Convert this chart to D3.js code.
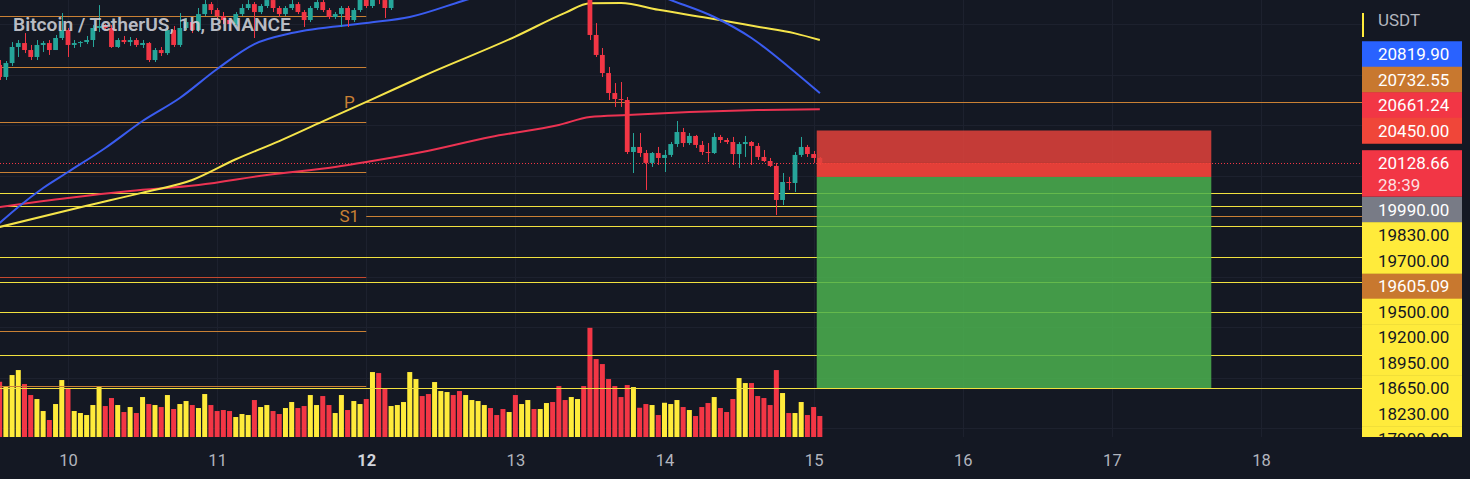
<!DOCTYPE html>
<html>
<head>
<meta charset="utf-8">
<script src="https://cdn.jsdelivr.net/npm/d3@7"></script>
<style>
  html, body { margin: 0; padding: 0; background: #141823; }
  svg { display: block; font-family: Roboto, "Noto Sans", sans-serif; }
</style>
</head>
<body>
<svg id="chart" width="1470" height="479"></svg>
<script>
// BTCUSDT 1h, hours counted from 2022-09-10 00:00 UTC, first candle at hour -11
const firstHour = -11;
const firstOpen = 21099;

const closes = [
    20980, 21118, 21277, 21316, 21247, 21178, 21297, 21316, 21247, 21366, 21445,
    21297, 21316, 21326, 21346, 21465, 21485, 21465, 21277, 21346, 21326,
    21346, 21297, 21316, 21148, 21247, 21217, 21445, 21297, 21465, 21524,
    21445, 21603, 21702, 21643, 21584, 21544, 21504, 21603, 21663, 21702,
    21623, 21683, 21742, 21663, 21603, 21663, 21702, 21623, 21544, 21663,
    21722, 21643, 21574, 21603, 21663, 21544, 21643, 21762, 21683, 21821,
    21742, 21663, 21762, 21841, 21900, 22150, 22300, 22220, 22150, 22280,
    22350, 22400, 22330, 22250, 22300, 22340, 22380, 22410, 22380, 22360,
    22320, 22350, 22300, 22340, 22400, 22370, 22400, 22450, 22420, 22350,
    22330, 22380, 22420, 22380, 21396, 21198, 21019, 20821, 20762, 20752,
    20237, 20287, 20227, 20129, 20227, 20178, 20208, 20316, 20435, 20326,
    20396, 20307, 20237, 20227, 20386, 20356, 20336, 20217, 20316, 20336,
    20297, 20188, 20148, 20099, 19762, 19940, 19930, 20208, 20287, 20217,
    20178, 20128.66
];

const highs = [
    21148, 21138, 21326, 21346, 21415, 21297, 21346, 21336, 21346, 21396, 21613,
    21465, 21346, 21336, 21386, 21494, 21692, 21504, 21494, 21366, 21386,
    21376, 21366, 21346, 21326, 21267, 21277, 21465, 21485, 21613, 21564,
    21544, 21663, 21792, 21722, 21663, 21623, 21564, 21623, 21702, 21742,
    21722, 21702, 21782, 21762, 21683, 21683, 21742, 21722, 21643, 21683,
    21762, 21742, 21663, 21623, 21683, 21683, 21663, 21801, 21782, 21861,
    21841, 21762, 21782, 21881, 21960, 22200, 22350, 22330, 22240, 22300,
    22380, 22440, 22420, 22350, 22320, 22360, 22400, 22440, 22430, 22400,
    22380, 22370, 22380, 22360, 22420, 22420, 22420, 22480, 22470, 22440,
    22380, 22400, 22450, 22460, 22440, 21514, 21267, 21079, 20920, 20930,
    20782, 20425, 20425, 20257, 20237, 20287, 20257, 20336, 20544, 20475,
    20425, 20406, 20346, 20326, 20425, 20406, 20376, 20386, 20336, 20396,
    20346, 20326, 20257, 20178, 20129, 20029, 19990, 20237, 20386, 20307,
    20247, 20188
];

const lows = [
    20950, 20950, 21089, 21178, 21217, 21148, 21148, 21227, 21198, 21247, 21346,
    21178, 21267, 21277, 21306, 21277, 21425, 21445, 21267, 21267, 21306,
    21287, 21277, 21267, 21128, 21128, 21188, 21198, 21277, 21277, 21445,
    21415, 21425, 21584, 21603, 21544, 21504, 21445, 21485, 21584, 21643,
    21366, 21603, 21663, 21623, 21574, 21584, 21643, 21603, 21475, 21524,
    21643, 21623, 21554, 21554, 21475, 21475, 21524, 21623, 21663, 21663,
    21702, 21564, 21643, 21742, 21820, 21880, 22120, 22180, 22100, 22130,
    22260, 22330, 22300, 22220, 22230, 22280, 22320, 22360, 22350, 22340,
    22290, 22300, 22260, 22280, 22320, 22350, 22350, 22390, 22400, 22320,
    22300, 22310, 22360, 22350, 21346, 21178, 20980, 20752, 20683, 20683,
    20217, 20029, 20188, 19861, 20089, 20109, 20039, 20188, 20287, 20287,
    20307, 20277, 20208, 20138, 20217, 20326, 20316, 20109, 20079, 20188,
    20109, 20158, 20138, 20089, 19613, 19712, 19861, 19841, 20188, 20188,
    20129, 20109
];

const volumes = [
    30400, 28050, 34100, 36850, 29150, 23100, 20900, 14300, 9350, 18150, 31350,
    26400, 14300, 13200, 12100, 17600, 27500, 17050, 21450, 17600, 13750,
    16500, 13200, 22000, 18150, 17600, 16500, 23100, 15400, 18150, 19800,
    17600, 15950, 23650, 17600, 14300, 14850, 14300, 11000, 12650, 12100,
    20350, 16500, 17600, 14300, 12650, 15950, 19250, 15950, 17050, 23100,
    17600, 22550, 17600, 13200, 23100, 14850, 19800, 18150, 20900, 35750,
    35200, 26950, 17050, 17600, 19250, 35750, 31900, 22550, 23650, 30250,
    25300, 24750, 23100, 25300, 23100, 20350, 19800, 17600, 15950, 12100,
    15400, 13750, 23100, 18150, 20350, 15400, 15400, 18700, 19250, 28050,
    20350, 22000, 20900, 28050, 60100, 42900, 40150, 31900, 28050, 22000,
    28600, 27500, 16100, 18150, 17600, 12100, 18850, 18150, 20350, 16500,
    14850, 11550, 16500, 18700, 22000, 15950, 13750, 20900, 32450, 29700,
    29700, 22550, 21450, 17600, 36850, 24200, 13200, 13200, 19250, 12100,
    16500, 11550
];

// moving averages, read at a few hours along each curve
const blueHours   = [-11, -8, -4, 0, 6, 12, 18, 24, 30, 36, 48, 55, 64, 72, 80, 86, 92, 97, 104, 110, 116, 121];
const bluePrices  = [19534, 19693, 19881, 20039, 20277, 20544, 20772, 21059, 21306, 21415, 21514, 21574, 21742, 21881, 21960, 21960, 21861, 21742, 21574, 21366, 21079, 20819.90];
const yellowHours = [-11, 3, 12, 20, 27, 34, 41, 49, 57, 72, 80, 84, 89, 95, 103, 111, 117, 121];
const yellowPrices = [19495, 19705, 19835, 19960, 20165, 20345, 20540, 20760, 20985, 21380, 21615, 21710, 21712, 21645, 21565, 21478, 21412, 21346];
const redHours    = [-11, 0, 10, 21, 32, 43, 48, 57, 68, 79, 84, 90, 100, 111, 121];
const redPrices   = [19693, 19782, 19851, 19910, 20010, 20089, 20138, 20237, 20386, 20505, 20584, 20604, 20633, 20653, 20661.24];

// weekly pivots: previous week (ends on the 12th) and current week
const prevPivots = [21579, 21076, 20537, 20036, 18997, 18465, 17921];
const pivotNames = ['P', 'S1'];
const pivotPrices = [20732.55, 19605.09];

// drawn horizontal levels
const yellowLevels = [19830, 19700, 19500, 19200, 18950, 18650, 18230, 17900];

// short position tool
const entryPrice = 19990;
const stopPrice = 20450;
const targetPrice = 17900;
const positionStartHour = 120.5;
const positionEndHour = 184;

const countdown = '28:39';
const dayTicks = [10, 11, 12, 13, 14, 15, 16, 17, 18];

const W = 1470, H = 479, plotW = 1362, paneBottom = 437;
const day10 = new Date(Date.UTC(2022, 8, 10));
const hourDate = h => new Date(day10.getTime() + h * 3600e3);

const x = d3.scaleUtc()
    .domain([day10, new Date(Date.UTC(2022, 8, 18))])
    .range([68, 1261]);

const y = d3.scaleLinear()
    .domain([17900, 20450])
    .range([388, 130.5]);

const yVol = d3.scaleLinear()
    .domain([0, 60000])
    .range([paneBottom, 328]);

const candles = closes.map((c, i) => {
    const o = i === 0 ? firstOpen : closes[i - 1];
    return {
        t: hourDate(firstHour + i),
        o: o,
        c: c,
        h: Math.max(highs[i], o, c),
        l: Math.min(lows[i], o, c),
        v: volumes[i],
        up: c >= o
    };
});
const lastClose = closes[closes.length - 1];

const svg = d3.select('#chart');

svg.append('rect')
    .attr('width', W).attr('height', H)
    .attr('fill', '#141823');

const defs = svg.append('defs');
defs.append('clipPath').attr('id', 'plot-clip')
    .append('rect').attr('width', plotW).attr('height', paneBottom);
defs.append('clipPath').attr('id', 'axis-clip')
    .append('rect').attr('x', plotW).attr('width', W - plotW).attr('height', paneBottom);

const plot = svg.append('g').attr('clip-path', 'url(#plot-clip)');

// grid
const grid = plot.append('g').attr('stroke', '#1d212e').attr('stroke-width', 1);
grid.selectAll('.vgrid')
    .data(d3.utcDay.range(new Date(Date.UTC(2022, 8, 9)), new Date(Date.UTC(2022, 8, 19))))
    .join('line')
    .attr('x1', d => Math.round(x(d)) + 0.5).attr('x2', d => Math.round(x(d)) + 0.5)
    .attr('y1', 0).attr('y2', paneBottom);
grid.selectAll('.hgrid')
    .data(d3.range(17500, 22001, 500))
    .join('line')
    .attr('x1', 0).attr('x2', plotW)
    .attr('y1', d => Math.round(y(d)) + 0.5).attr('y2', d => Math.round(y(d)) + 0.5);

// volume
const barW = 5;
plot.append('g')
    .selectAll('rect')
    .data(candles)
    .join('rect')
    .attr('x', d => x(d.t) - barW / 2)
    .attr('width', barW)
    .attr('y', d => yVol(d.v))
    .attr('height', d => paneBottom - yVol(d.v))
    .attr('fill', d => d.up ? '#ffeb3b' : '#f23645');

// level lines
const weekStart = new Date(Date.UTC(2022, 8, 12));
plot.append('g')
    .selectAll('line')
    .data(prevPivots)
    .join('line')
    .attr('x1', 0).attr('x2', x(weekStart))
    .attr('y1', d => Math.round(y(d)) + 0.5).attr('y2', d => Math.round(y(d)) + 0.5)
    .attr('stroke', (d, i) => i === 4 ? '#c4482f' : '#c98034')
    .attr('stroke-width', 1);

plot.append('g')
    .selectAll('line')
    .data(pivotPrices)
    .join('line')
    .attr('x1', x(weekStart)).attr('x2', plotW)
    .attr('y1', d => Math.round(y(d)) + 0.5).attr('y2', d => Math.round(y(d)) + 0.5)
    .attr('stroke', '#c98034')
    .attr('stroke-width', 1);

plot.append('g')
    .selectAll('text')
    .data(pivotPrices)
    .join('text')
    .attr('x', x(weekStart) - 17)
    .attr('y', d => y(d) + 6)
    .attr('text-anchor', 'middle')
    .attr('font-size', 17)
    .attr('fill', '#c98034')
    .text((d, i) => pivotNames[i]);

plot.append('g')
    .selectAll('line')
    .data(yellowLevels)
    .join('line')
    .attr('x1', 0).attr('x2', plotW)
    .attr('y1', d => Math.round(y(d)) + 0.5).attr('y2', d => Math.round(y(d)) + 0.5)
    .attr('stroke', '#f2e13f')
    .attr('stroke-width', 1);

plot.append('line')
    .attr('x1', 0).attr('x2', plotW)
    .attr('y1', Math.round(y(lastClose)) + 0.5).attr('y2', Math.round(y(lastClose)) + 0.5)
    .attr('stroke', '#f23645')
    .attr('stroke-width', 1)
    .attr('stroke-dasharray', '1 2');

// moving averages
const maLine = d3.line()
    .x(d => x(hourDate(d[0])))
    .y(d => y(d[1]))
    .curve(d3.curveMonotoneX);

const maSeries = [
    { hours: redHours, prices: redPrices, color: '#ec3352' },
    { hours: yellowHours, prices: yellowPrices, color: '#f5e44a' },
    { hours: blueHours, prices: bluePrices, color: '#3a5cf0' }
];
plot.append('g')
    .attr('fill', 'none')
    .selectAll('path')
    .data(maSeries)
    .join('path')
    .attr('stroke', d => d.color)
    .attr('stroke-width', 2)
    .attr('d', d => maLine(d.hours.map((h, i) => [h, d.prices[i]])));

// candles
const bodyW = 4.8;
const candleG = plot.append('g')
    .selectAll('g')
    .data(candles)
    .join('g')
    .attr('fill', d => d.up ? '#26a69a' : '#f23645')
    .attr('stroke', d => d.up ? '#26a69a' : '#f23645');

candleG.append('line')
    .attr('x1', d => Math.round(x(d.t)) + 0.5).attr('x2', d => Math.round(x(d.t)) + 0.5)
    .attr('y1', d => y(d.h)).attr('y2', d => y(d.l))
    .attr('stroke-width', 1);

candleG.append('rect')
    .attr('stroke', 'none')
    .attr('x', d => x(d.t) - bodyW / 2)
    .attr('width', bodyW)
    .attr('y', d => y(Math.max(d.o, d.c)))
    .attr('height', d => Math.max(1, Math.abs(y(d.o) - y(d.c))));

// position box
const bx0 = x(hourDate(positionStartHour));
const bx1 = x(hourDate(positionEndHour));
const box = plot.append('g');
box.append('rect')
    .attr('x', bx0).attr('width', bx1 - bx0)
    .attr('y', y(stopPrice)).attr('height', y(lastClose) - y(stopPrice))
    .attr('fill', '#e3423b').attr('opacity', 0.85);
box.append('rect')
    .attr('x', bx0).attr('width', bx1 - bx0)
    .attr('y', y(lastClose)).attr('height', y(entryPrice) - y(lastClose))
    .attr('fill', '#f3433a').attr('opacity', 0.93);
box.append('rect')
    .attr('x', bx0).attr('width', bx1 - bx0)
    .attr('y', y(entryPrice)).attr('height', y(targetPrice) - y(entryPrice))
    .attr('fill', '#4bb14f').attr('opacity', 0.85);

// title
svg.append('text')
    .attr('x', 13).attr('y', 31)
    .attr('font-size', 19.2)
    .attr('font-weight', 600)
    .attr('fill', '#c9ccd4')
    .attr('fill-opacity', 0.92)
    .text('Bitcoin / TetherUS, 1h, BINANCE');

// price axis labels, stacked around the last price label
const labelH = 25.5;
const lastH = 46.5;
const labels = [
    { p: bluePrices[bluePrices.length - 1], bg: '#2962ff', fg: '#ffffff' },
    { p: pivotPrices[0], bg: '#c8782f', fg: '#ffffff' },
    { p: redPrices[redPrices.length - 1], bg: '#f23645', fg: '#ffffff' },
    { p: stopPrice, bg: '#f04639', fg: '#ffffff' },
    { p: entryPrice, bg: '#787b86', fg: '#ffffff' },
    { p: pivotPrices[1], bg: '#c8782f', fg: '#ffffff' }
].concat(yellowLevels.map(p => ({ p: p, bg: '#ffeb3b', fg: '#131722' })));

const lastY = y(lastClose);
const lastTop = lastY - labelH / 2;
let edge = lastTop;
labels.filter(d => d.p > lastClose).sort((a, b) => a.p - b.p).forEach(d => {
    d.cy = Math.min(y(d.p), edge - labelH / 2);
    edge = d.cy - labelH / 2;
});
edge = lastTop + lastH;
labels.filter(d => d.p < lastClose).sort((a, b) => b.p - a.p).forEach(d => {
    d.cy = Math.max(y(d.p), edge + labelH / 2);
    edge = d.cy + labelH / 2;
});

const axisG = svg.append('g').attr('clip-path', 'url(#axis-clip)');
const labelG = axisG.selectAll('g')
    .data(labels)
    .join('g');
labelG.append('rect')
    .attr('x', plotW).attr('width', 100)
    .attr('y', d => d.cy - labelH / 2).attr('height', labelH + 0.5)
    .attr('fill', d => d.bg);
labelG.append('text')
    .attr('x', 1378).attr('y', d => d.cy)
    .attr('dy', '0.36em')
    .attr('font-size', 17)
    .attr('fill', d => d.fg)
    .text(d => d.p.toFixed(2));

axisG.append('rect')
    .attr('x', plotW).attr('width', 100)
    .attr('y', lastTop).attr('height', lastH)
    .attr('fill', '#f23645');
axisG.append('text')
    .attr('x', 1378).attr('y', lastY).attr('dy', '0.36em')
    .attr('font-size', 17).attr('fill', '#ffffff')
    .text(lastClose.toFixed(2));
axisG.append('text')
    .attr('x', 1378).attr('y', lastY + 22).attr('dy', '0.36em')
    .attr('font-size', 17).attr('fill', '#ffffff').attr('fill-opacity', 0.85)
    .text(countdown);

svg.append('rect')
    .attr('x', plotW).attr('y', 13).attr('width', 2).attr('height', 24)
    .attr('fill', '#ffeb3b');
svg.append('text')
    .attr('x', 1378).attr('y', 26)
    .attr('font-size', 17)
    .attr('fill', '#b2b5be')
    .text('USDT');

// time axis
const timeAxis = svg.append('g')
    .attr('transform', `translate(0,${paneBottom})`)
    .call(d3.axisBottom(x)
        .tickValues(dayTicks.map(d => new Date(Date.UTC(2022, 8, d))))
        .tickFormat(d3.utcFormat('%-d'))
        .tickSize(0)
        .tickPadding(17));
timeAxis.select('.domain').remove();
timeAxis.selectAll('text')
    .attr('font-family', 'Roboto, "Noto Sans", sans-serif')
    .attr('font-size', 16.5)
    .attr('fill', '#b2b5be')
    .filter(d => d.getUTCDay() === 1)
    .attr('font-weight', 700)
    .attr('fill', '#d1d4dc');
</script>
</body>
</html>
